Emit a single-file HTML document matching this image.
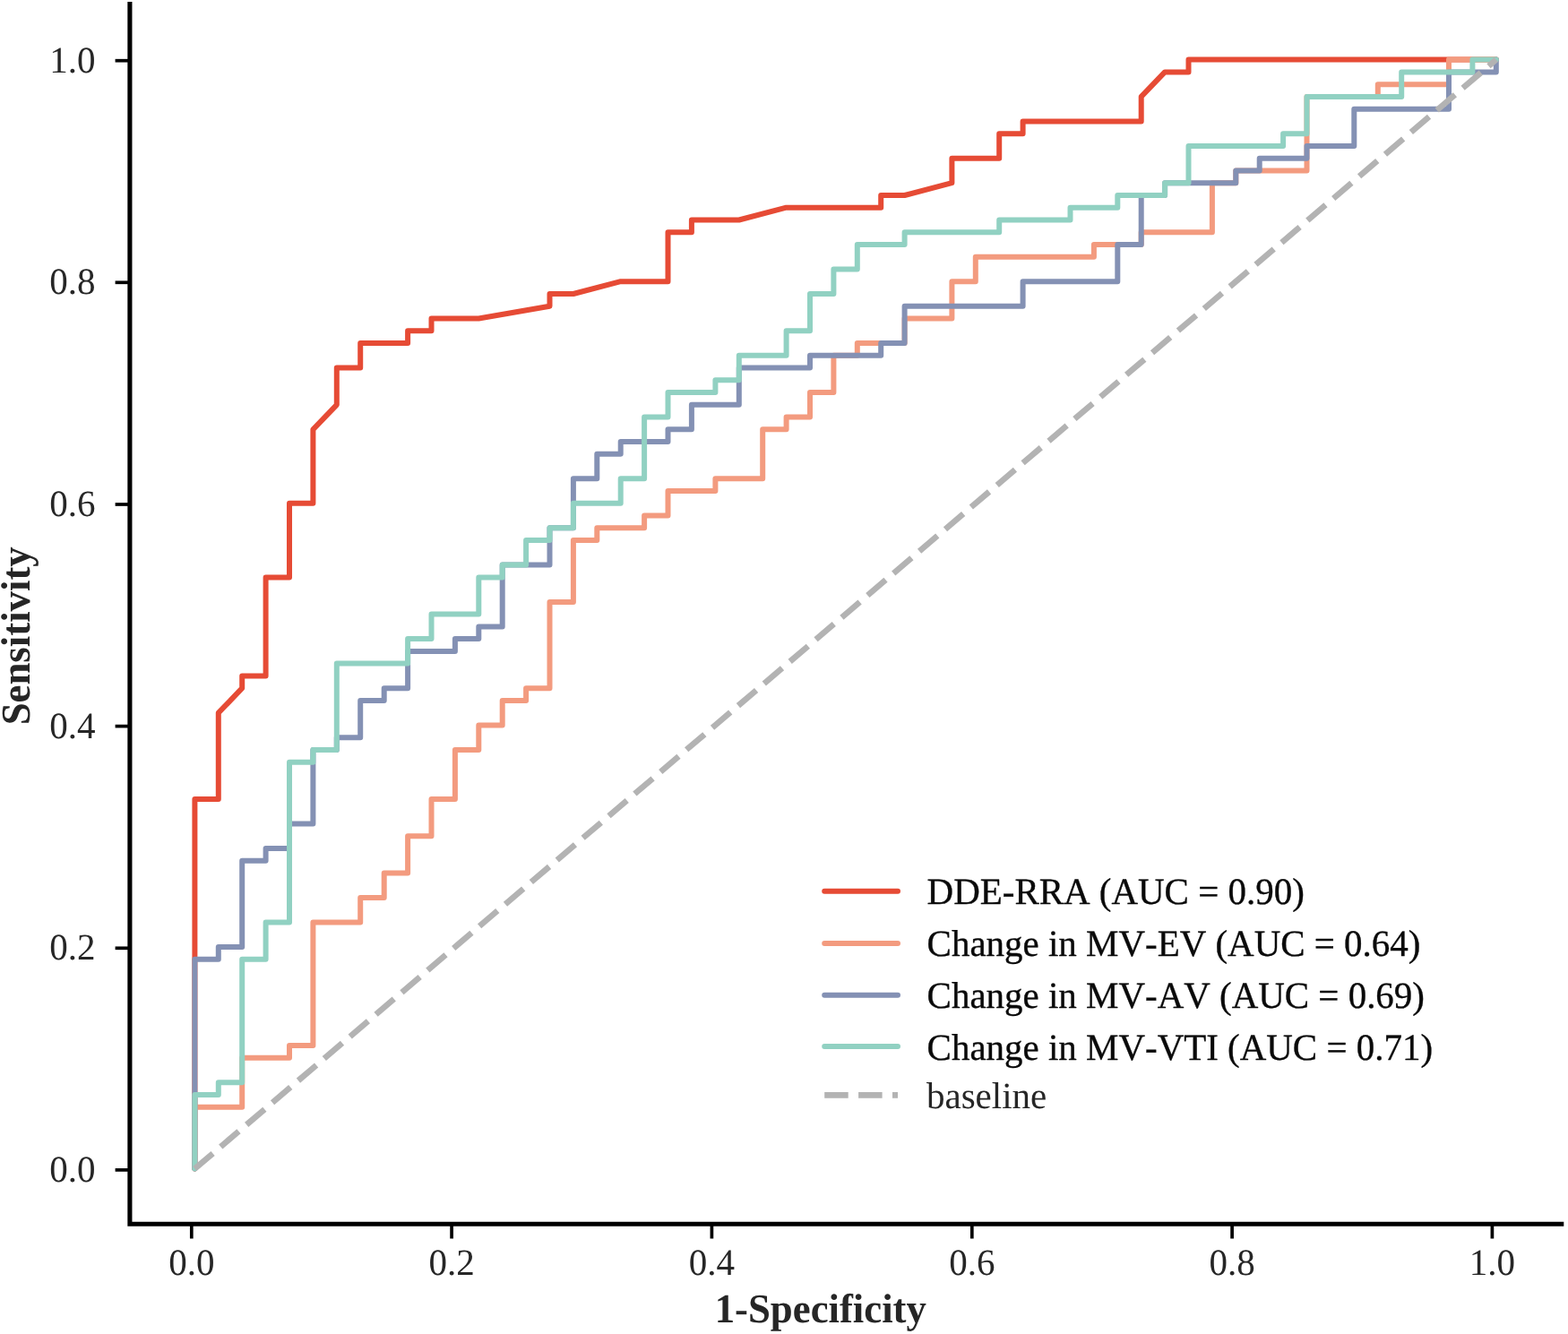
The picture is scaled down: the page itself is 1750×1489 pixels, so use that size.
<!DOCTYPE html>
<html lang="en">
<head>
<meta charset="utf-8">
<title>ROC curves</title>
<style>
html,body{margin:0;padding:0;background:#fff;}
body{width:1750px;height:1489px;overflow:hidden;}
svg{display:block;}
text{font-family:"Liberation Serif","DejaVu Serif",serif;fill:#262626;font-kerning:none;font-variant-ligatures:none;text-rendering:geometricPrecision;}
.tk{font-size:41.67px;}
.lg{font-size:41.67px;fill:#0a0a0a;stroke:#0a0a0a;stroke-width:0.35px;stroke-linejoin:round;}
.lgb{font-size:41.67px;}
.ax{font-size:45.83px;font-weight:bold;}
.curve{fill:none;stroke-width:6.00;stroke-linejoin:round;stroke-linecap:round;}
</style>
</head>
<body>
<svg width="1750" height="1489" viewBox="0 0 1750 1489">
<rect x="0" y="0" width="1750" height="1489" fill="#ffffff"/>
<polyline class="curve" stroke="#E64B35" points="217.4,1304.6 217.4,891.9 243.8,891.9 243.8,795.7 270.2,768.2 270.2,754.4 296.6,754.4 296.6,644.4 323.0,644.4 323.0,561.8 349.4,561.8 349.4,479.3 375.8,451.8 375.8,410.5 402.2,410.5 402.2,383.0 455.1,383.0 455.1,369.3 481.5,369.3 481.5,355.5 534.3,355.5 613.5,341.7 613.5,328.0 639.9,328.0 692.7,314.2 745.5,314.2 745.5,259.2 771.9,259.2 771.9,245.5 824.8,245.5 877.6,231.7 983.2,231.7 983.2,218.0 1009.6,218.0 1062.4,204.2 1062.4,176.7 1115.2,176.7 1115.2,149.2 1141.6,149.2 1141.6,135.4 1273.7,135.4 1273.7,107.9 1300.1,80.4 1326.5,80.4 1326.5,66.6 1669.8,66.6"/>
<polyline class="curve" stroke="#F39B7F" points="217.4,1304.6 217.4,1235.8 270.2,1235.8 270.2,1180.8 323.0,1180.8 323.0,1167.0 349.4,1167.0 349.4,1029.5 402.2,1029.5 402.2,1002.0 428.7,1002.0 428.7,974.5 455.1,974.5 455.1,933.2 481.5,933.2 481.5,891.9 507.9,891.9 507.9,836.9 534.3,836.9 534.3,809.4 560.7,809.4 560.7,781.9 587.1,781.9 587.1,768.2 613.5,768.2 613.5,671.9 639.9,671.9 639.9,603.1 666.3,603.1 666.3,589.3 719.1,589.3 719.1,575.6 745.5,575.6 745.5,548.1 798.4,548.1 798.4,534.3 851.2,534.3 851.2,479.3 877.6,479.3 877.6,465.5 904.0,465.5 904.0,438.0 930.4,438.0 930.4,396.8 956.8,396.8 956.8,383.0 1009.6,383.0 1009.6,355.5 1062.4,355.5 1062.4,314.2 1088.8,314.2 1088.8,286.7 1220.9,286.7 1220.9,273.0 1273.7,273.0 1273.7,259.2 1352.9,259.2 1352.9,204.2 1379.3,204.2 1379.3,190.4 1458.5,190.4 1458.5,107.9 1537.8,107.9 1537.8,94.2 1617.0,94.2 1617.0,66.6 1669.8,66.6"/>
<polyline class="curve" stroke="#8491B4" points="217.4,1304.6 217.4,1070.8 243.8,1070.8 243.8,1057.0 270.2,1057.0 270.2,960.7 296.6,960.7 296.6,947.0 323.0,947.0 323.0,919.5 349.4,919.5 349.4,836.9 375.8,836.9 375.8,823.2 402.2,823.2 402.2,781.9 428.7,781.9 428.7,768.2 455.1,768.2 455.1,726.9 507.9,726.9 507.9,713.1 534.3,713.1 534.3,699.4 560.7,699.4 560.7,630.6 613.5,630.6 613.5,589.3 639.9,589.3 639.9,534.3 666.3,534.3 666.3,506.8 692.7,506.8 692.7,493.1 745.5,493.1 745.5,479.3 771.9,479.3 771.9,451.8 824.8,451.8 824.8,410.5 904.0,410.5 904.0,396.8 983.2,396.8 983.2,383.0 1009.6,383.0 1009.6,341.7 1141.6,341.7 1141.6,314.2 1247.3,314.2 1247.3,273.0 1273.7,273.0 1273.7,218.0 1300.1,218.0 1300.1,204.2 1379.3,204.2 1379.3,190.4 1405.7,190.4 1405.7,176.7 1458.5,176.7 1458.5,162.9 1511.3,162.9 1511.3,121.7 1617.0,121.7 1617.0,80.4 1669.8,80.4 1669.8,66.6"/>
<polyline class="curve" stroke="#91D1C2" points="217.4,1304.6 217.4,1222.1 243.8,1222.1 243.8,1208.3 270.2,1208.3 270.2,1070.8 296.6,1070.8 296.6,1029.5 323.0,1029.5 323.0,850.7 349.4,850.7 349.4,836.9 375.8,836.9 375.8,740.6 455.1,740.6 455.1,713.1 481.5,713.1 481.5,685.6 534.3,685.6 534.3,644.4 560.7,644.4 560.7,630.6 587.1,630.6 587.1,603.1 613.5,603.1 613.5,589.3 639.9,589.3 639.9,561.8 692.7,561.8 692.7,534.3 719.1,534.3 719.1,465.5 745.5,465.5 745.5,438.0 798.4,438.0 798.4,424.3 824.8,424.3 824.8,396.8 877.6,396.8 877.6,369.3 904.0,369.3 904.0,328.0 930.4,328.0 930.4,300.5 956.8,300.5 956.8,273.0 1009.6,273.0 1009.6,259.2 1115.2,259.2 1115.2,245.5 1194.5,245.5 1194.5,231.7 1247.3,231.7 1247.3,218.0 1300.1,218.0 1300.1,204.2 1326.5,204.2 1326.5,162.9 1432.1,162.9 1432.1,149.2 1458.5,149.2 1458.5,107.9 1564.2,107.9 1564.2,80.4 1643.4,80.4 1643.4,66.6 1669.8,66.6"/>
<line x1="217.4" y1="1304.6" x2="1669.8" y2="66.6" stroke="#B3B3B3" stroke-width="6.60" stroke-dasharray="26.5 11.45" stroke-linecap="butt"/>
<g stroke="#000000" fill="none">
<path d="M144.9 2 V1366.2 H1745.3" stroke-width="5.1" stroke-linejoin="miter" stroke-linecap="butt"/>
<line x1="213.8" y1="1366.2" x2="213.8" y2="1382.5" stroke-width="3.7"/>
<line x1="504.1" y1="1366.2" x2="504.1" y2="1382.5" stroke-width="3.7"/>
<line x1="794.4" y1="1366.2" x2="794.4" y2="1382.5" stroke-width="3.7"/>
<line x1="1084.8" y1="1366.2" x2="1084.8" y2="1382.5" stroke-width="3.7"/>
<line x1="1375.1" y1="1366.2" x2="1375.1" y2="1382.5" stroke-width="3.7"/>
<line x1="1665.4" y1="1366.2" x2="1665.4" y2="1382.5" stroke-width="3.7"/>
<line x1="128.6" y1="1305.9" x2="144.9" y2="1305.9" stroke-width="3.7"/>
<line x1="128.6" y1="1058.3" x2="144.9" y2="1058.3" stroke-width="3.7"/>
<line x1="128.6" y1="810.6" x2="144.9" y2="810.6" stroke-width="3.7"/>
<line x1="128.6" y1="563.0" x2="144.9" y2="563.0" stroke-width="3.7"/>
<line x1="128.6" y1="315.3" x2="144.9" y2="315.3" stroke-width="3.7"/>
<line x1="128.6" y1="67.7" x2="144.9" y2="67.7" stroke-width="3.7"/>
</g>
<text class="tk" transform="translate(213.8 1422.7) scale(0.985 1)" text-anchor="middle">0.0</text>
<text class="tk" transform="translate(504.1 1422.7) scale(0.985 1)" text-anchor="middle">0.2</text>
<text class="tk" transform="translate(794.4 1422.7) scale(0.985 1)" text-anchor="middle">0.4</text>
<text class="tk" transform="translate(1084.8 1422.7) scale(0.985 1)" text-anchor="middle">0.6</text>
<text class="tk" transform="translate(1375.1 1422.7) scale(0.985 1)" text-anchor="middle">0.8</text>
<text class="tk" transform="translate(1665.4 1422.7) scale(0.985 1)" text-anchor="middle">1.0</text>
<text class="tk" transform="translate(106.6 1318.9) scale(0.985 1)" text-anchor="end">0.0</text>
<text class="tk" transform="translate(106.6 1071.3) scale(0.985 1)" text-anchor="end">0.2</text>
<text class="tk" transform="translate(106.6 823.6) scale(0.985 1)" text-anchor="end">0.4</text>
<text class="tk" transform="translate(106.6 576.0) scale(0.985 1)" text-anchor="end">0.6</text>
<text class="tk" transform="translate(106.6 328.3) scale(0.985 1)" text-anchor="end">0.8</text>
<text class="tk" transform="translate(106.6 80.7) scale(0.985 1)" text-anchor="end">1.0</text>
<text class="ax" transform="translate(915.8 1476.0) scale(0.977 1)" text-anchor="middle">1-Specificity</text>
<text class="ax" transform="translate(33.2 709.8) rotate(-90) scale(0.977 1)" text-anchor="middle">Sensitivity</text>
<line x1="920.2" y1="994.8" x2="1002" y2="994.8" stroke="#E64B35" stroke-width="6.00" stroke-linecap="round"/>
<text class="lg" transform="translate(1034.6 1009.4) scale(0.983 1)">DDE-RRA (AUC = 0.90)</text>
<line x1="920.2" y1="1053.1" x2="1002" y2="1053.1" stroke="#F39B7F" stroke-width="6.00" stroke-linecap="round"/>
<text class="lg" transform="translate(1034.6 1067.0) scale(0.983 1)">Change in MV-EV (AUC = 0.64)</text>
<line x1="920.2" y1="1110.7" x2="1002" y2="1110.7" stroke="#8491B4" stroke-width="6.00" stroke-linecap="round"/>
<text class="lg" transform="translate(1034.6 1125.0) scale(0.983 1)">Change in MV-AV (AUC = 0.69)</text>
<line x1="920.2" y1="1168.1" x2="1002" y2="1168.1" stroke="#91D1C2" stroke-width="6.00" stroke-linecap="round"/>
<text class="lg" transform="translate(1034.6 1182.9) scale(0.983 1)">Change in MV-VTI (AUC = 0.71)</text>
<line x1="920.2" y1="1222.4" x2="1002" y2="1222.4" stroke="#B3B3B3" stroke-width="6.60" stroke-dasharray="26.5 11.4" stroke-linecap="butt"/>
<text class="lgb" transform="translate(1033.9 1237.2) scale(0.985 1)">baseline</text>
</svg>
</body>
</html>
